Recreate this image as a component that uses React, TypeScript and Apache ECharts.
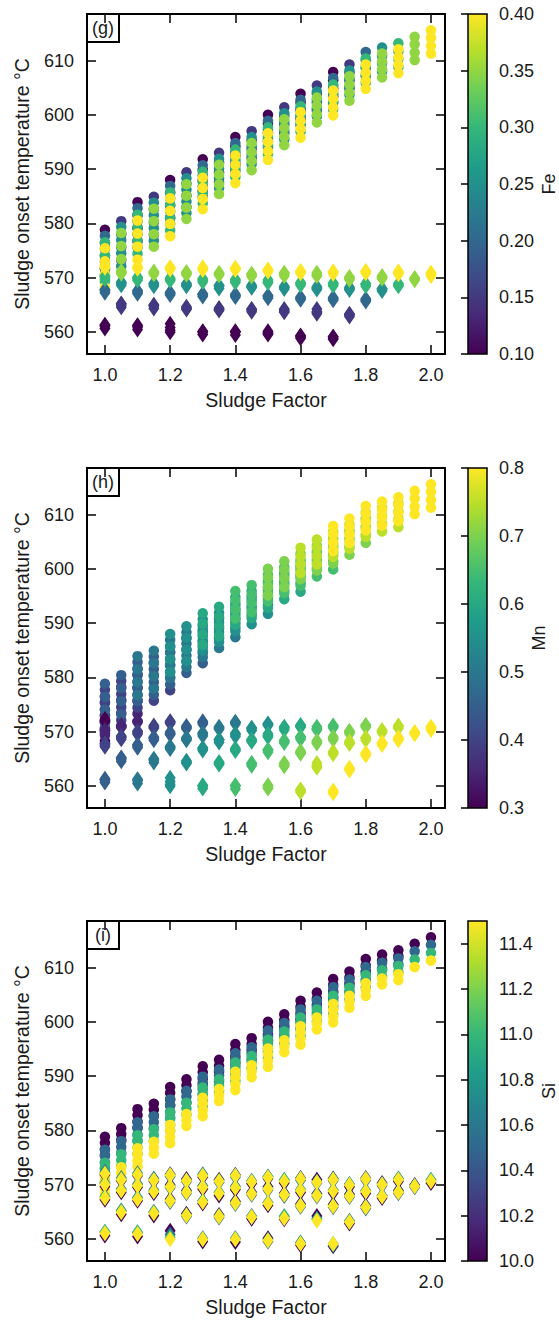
import React, { useEffect, useRef } from "react";
import * as echarts from "echarts";

// ---- data: one row per (Fe, Mn) composition; four Si levels per row ----
const sludgeFactor = [
  1.0, 1.0, 1.0, 1.0,
  1.05, 1.05, 1.05,
  1.1, 1.1, 1.1, 1.1,
  1.15, 1.15, 1.15,
  1.2, 1.2, 1.2, 1.2,
  1.25, 1.25, 1.25,
  1.3, 1.3, 1.3, 1.3,
  1.35, 1.35, 1.35,
  1.4, 1.4, 1.4, 1.4,
  1.45, 1.45, 1.45,
  1.5, 1.5, 1.5, 1.5,
  1.55, 1.55, 1.55,
  1.6, 1.6, 1.6, 1.6,
  1.65, 1.65, 1.65,
  1.7, 1.7, 1.7, 1.7,
  1.75, 1.75, 1.75,
  1.8, 1.8, 1.8,
  1.85, 1.85,
  1.9, 1.9,
  1.95,
  2.0,
];

const feContent = [
  0.1, 0.2, 0.3, 0.4,
  0.15, 0.25, 0.35,
  0.1, 0.2, 0.3, 0.4,
  0.15, 0.25, 0.35,
  0.1, 0.2, 0.3, 0.4,
  0.15, 0.25, 0.35,
  0.1, 0.2, 0.3, 0.4,
  0.15, 0.25, 0.35,
  0.1, 0.2, 0.3, 0.4,
  0.15, 0.25, 0.35,
  0.1, 0.2, 0.3, 0.4,
  0.15, 0.25, 0.35,
  0.1, 0.2, 0.3, 0.4,
  0.15, 0.25, 0.35,
  0.1, 0.2, 0.3, 0.4,
  0.15, 0.25, 0.35,
  0.2, 0.3, 0.4,
  0.25, 0.35,
  0.3, 0.4,
  0.35,
  0.4,
];

const mnContent = [
  0.45, 0.4, 0.35, 0.3,
  0.45, 0.4, 0.35,
  0.5, 0.45, 0.4, 0.35,
  0.5, 0.45, 0.4,
  0.55, 0.5, 0.45, 0.4,
  0.55, 0.5, 0.45,
  0.6, 0.55, 0.5, 0.45,
  0.6, 0.55, 0.5,
  0.65, 0.6, 0.55, 0.5,
  0.65, 0.6, 0.55,
  0.7, 0.65, 0.6, 0.55,
  0.7, 0.65, 0.6,
  0.75, 0.7, 0.65, 0.6,
  0.75, 0.7, 0.65,
  0.8, 0.75, 0.7, 0.65,
  0.8, 0.75, 0.7,
  0.8, 0.75, 0.7,
  0.8, 0.75,
  0.8, 0.75,
  0.8,
  0.8,
];

const siContent = [10.0, 10.5, 11.0, 11.5];

// onset temperature (°C) of the upper (circle) branch, per Si level
const upperOnset = [
  [578.8, 576.4, 574.0, 571.6], [577.7, 575.3, 572.9, 570.5], [576.5, 574.1, 571.7, 569.3], [575.4, 573.0, 570.6, 568.2],
  [580.4, 578.0, 575.6, 573.2], [579.3, 576.9, 574.5, 572.1], [578.2, 575.8, 573.4, 571.0],
  [583.9, 581.5, 579.1, 576.7], [582.8, 580.4, 578.0, 575.6], [581.6, 579.2, 576.8, 574.4], [580.5, 578.1, 575.7, 573.3],
  [584.9, 582.6, 580.2, 577.9], [583.8, 581.5, 579.1, 576.8], [582.7, 580.4, 578.0, 575.7],
  [588.0, 585.7, 583.3, 581.0], [586.9, 584.6, 582.2, 579.9], [585.7, 583.4, 581.0, 578.7], [584.6, 582.3, 579.9, 577.6],
  [589.4, 587.3, 585.1, 583.0], [588.3, 586.2, 584.0, 581.9], [587.2, 585.1, 582.9, 580.8],
  [591.8, 589.9, 587.9, 586.0], [590.7, 588.8, 586.8, 584.9], [589.5, 587.6, 585.6, 583.7], [588.4, 586.5, 584.5, 582.6],
  [593.0, 591.2, 589.4, 587.6], [591.9, 590.1, 588.3, 586.5], [590.8, 589.0, 587.2, 585.4],
  [595.9, 594.2, 592.5, 590.8], [594.8, 593.1, 591.4, 589.7], [593.6, 591.9, 590.2, 588.5], [592.5, 590.8, 589.1, 587.4],
  [597.0, 595.3, 593.7, 592.0], [595.9, 594.2, 592.6, 590.9], [594.8, 593.1, 591.5, 589.8],
  [600.0, 598.4, 596.7, 595.1], [598.9, 597.3, 595.6, 594.0], [597.7, 596.1, 594.4, 592.8], [596.6, 595.0, 593.3, 591.7],
  [601.4, 599.8, 598.2, 596.6], [600.3, 598.7, 597.1, 595.5], [599.2, 597.6, 596.0, 594.4],
  [603.9, 602.3, 600.8, 599.2], [602.8, 601.2, 599.7, 598.1], [601.6, 600.0, 598.5, 596.9], [600.5, 598.9, 597.4, 595.8],
  [605.4, 603.9, 602.3, 600.8], [604.3, 602.8, 601.2, 599.7], [603.2, 601.7, 600.1, 598.6],
  [607.9, 606.4, 604.8, 603.3], [606.8, 605.3, 603.7, 602.2], [605.6, 604.1, 602.5, 601.0], [604.5, 603.0, 601.4, 599.9],
  [609.3, 607.8, 606.3, 604.8], [608.2, 606.7, 605.2, 603.7], [607.1, 605.6, 604.1, 602.6],
  [611.6, 610.1, 608.6, 607.1], [610.4, 608.9, 607.4, 605.9], [609.3, 607.8, 606.3, 604.8],
  [612.4, 610.9, 609.5, 608.0], [611.3, 609.8, 608.4, 606.9],
  [613.2, 611.7, 610.3, 608.8], [612.1, 610.6, 609.2, 607.7],
  [614.4, 613.0, 611.5, 610.1],
  [615.6, 614.2, 612.7, 611.3],
];

// onset temperature (°C) of the lower (diamond) branch, per Si level
const lowerOnset = [
  [560.6, 561.2, 561.3, 561.0], [567.2, 567.7, 567.8, 567.5], [569.7, 570.3, 570.2, 570.0], [571.8, 572.3, 572.1, 572.0],
  [564.5, 565.2, 565.1, 564.9], [568.6, 569.2, 569.0, 568.9], [570.7, 571.2, 571.0, 570.9],
  [560.4, 561.1, 561.2, 560.9], [567.0, 567.6, 567.5, 567.3], [569.5, 570.1, 569.9, 569.8], [571.6, 572.1, 571.9, 571.8],
  [564.3, 565.0, 564.9, 564.7], [568.4, 569.0, 568.8, 568.7], [570.6, 571.1, 570.9, 570.8],
  [561.5, 560.8, 560.3, 559.9], [567.3, 566.8, 567.1, 567.0], [569.9, 569.4, 569.7, 569.6], [571.9, 571.5, 571.8, 571.7],
  [564.6, 564.1, 564.4, 564.3], [568.9, 568.4, 568.7, 568.6], [571.0, 570.5, 570.8, 570.7],
  [559.5, 560.1, 560.0, 559.9], [566.5, 567.0, 566.9, 566.8], [569.2, 569.8, 569.6, 569.5], [571.4, 571.9, 571.7, 571.6],
  [564.4, 563.9, 564.2, 564.1], [568.0, 568.6, 568.5, 568.4], [570.9, 570.4, 570.7, 570.6],
  [559.4, 560.1, 560.0, 559.9], [566.9, 566.4, 566.7, 566.6], [569.1, 569.7, 569.5, 569.4], [571.8, 571.4, 571.7, 571.6],
  [563.7, 564.2, 564.1, 564.0], [568.6, 568.1, 568.4, 568.3], [570.2, 570.7, 570.6, 570.5],
  [560.1, 559.5, 559.8, 559.7], [566.2, 566.7, 566.6, 566.5], [569.6, 569.0, 569.3, 569.2], [571.1, 571.5, 571.4, 571.3],
  [563.6, 564.0, 564.2, 563.8], [568.4, 567.9, 568.2, 568.1], [570.3, 570.8, 570.9, 570.6],
  [558.8, 559.3, 559.2, 559.1], [566.4, 565.9, 566.2, 566.1], [568.6, 569.1, 569.0, 568.9], [571.2, 570.8, 571.1, 571.0],
  [564.2, 563.7, 563.6, 563.3], [568.3, 567.8, 568.1, 568.0], [570.9, 570.3, 570.5, 570.4],
  [558.6, 558.8, 559.1, 559.1], [566.3, 565.8, 566.1, 566.0], [568.5, 569.0, 568.9, 568.8], [571.1, 570.7, 571.0, 570.9],
  [562.8, 563.3, 563.2, 563.1], [568.2, 567.7, 568.0, 567.9], [569.6, 570.1, 570.0, 569.9],
  [566.1, 565.6, 565.9, 565.8], [568.4, 568.9, 568.8, 568.7], [571.2, 570.8, 571.1, 571.0],
  [567.5, 568.0, 567.9, 567.8], [570.3, 569.8, 570.1, 570.0],
  [568.9, 568.4, 568.7, 568.6], [570.6, 571.1, 571.0, 570.9],
  [569.9, 569.5, 569.8, 569.7],
  [570.3, 570.8, 570.9, 570.6],
];

// axis ticks
const xTicks = [1.0, 1.2, 1.4, 1.6, 1.8, 2.0];
const yTicks = [560, 570, 580, 590, 600, 610];
const feTicks = [0.1, 0.15, 0.2, 0.25, 0.3, 0.35, 0.4];
const mnTicks = [0.3, 0.4, 0.5, 0.6, 0.7, 0.8];
const siTicks = [10.0, 10.2, 10.4, 10.6, 10.8, 11.0, 11.2, 11.4];

// ---- styling / layout ----
const VIRIDIS = ["#440154", "#482878", "#3e4a89", "#31688e", "#26828e", "#1f9e89", "#35b779", "#6ece58", "#b5de2b", "#fde725"];
const FONT = '"Liberation Sans", Arial, Helvetica, sans-serif';
const TXT = "#1a1a1a";
const PANEL_TOPS = [14, 468, 921];
const PLOT_LEFT = 87;
const PLOT_W = 358;
const PLOT_H = 340;
const CB_LEFT = 468;
const CB_W = 19;
const X_MIN = 0.945;
const X_MAX = 2.043;
const Y_MIN = 555.9;
const Y_MAX = 618.6;

const panels = [
  { tag: "(g)", name: "Fe", min: 0.1, max: 0.4, ticks: feTicks, digits: 2, gap: 53, key: "fe" },
  { tag: "(h)", name: "Mn", min: 0.3, max: 0.8, ticks: mnTicks, digits: 1, gap: 43, key: "mn" },
  { tag: "(i)", name: "Si", min: 10.0, max: 11.5, ticks: siTicks, digits: 1, gap: 53, key: "si" },
];

function colorValue(key: string, k: number, s: number) {
  if (key === "fe") return feContent[k];
  if (key === "mn") return mnContent[k];
  return siContent[s];
}

function buildPoints(key: string, temps: number[][]) {
  const pts: number[][] = [];
  for (let k = 0; k < sludgeFactor.length; k++) {
    for (let s = 0; s < siContent.length; s++) {
      pts.push([sludgeFactor[k], temps[k][s], colorValue(key, k, s)]);
    }
  }
  return pts
    .map((p, i) => ({ p, i }))
    .sort((a, b) => a.p[2] - b.p[2] || a.i - b.i)
    .map((o) => o.p);
}

function buildOption() {
  const grid: any[] = [];
  const xAxis: any[] = [];
  const yAxis: any[] = [];
  const series: any[] = [];
  const visualMap: any[] = [];
  const graphic: any[] = [];

  const axLine = { show: true, onZero: false, lineStyle: { color: "#000", width: 2 } };
  const tickStyle = { color: "#000", width: 1.5 };
  const labelStyle = { fontSize: 18, color: TXT, fontFamily: FONT };

  panels.forEach((p, i) => {
    const top = PANEL_TOPS[i];
    grid.push({ left: PLOT_LEFT, top, width: PLOT_W, height: PLOT_H, containLabel: false, outerBoundsMode: "none" });
    grid.push({ left: CB_LEFT, top, width: CB_W, height: PLOT_H, containLabel: false, outerBoundsMode: "none" });
    const g = i * 2;
    const cg = i * 2 + 1;

    xAxis.push({
      gridIndex: g, type: "value", position: "bottom", min: X_MIN, max: X_MAX,
      name: "Sludge Factor", nameLocation: "middle", nameGap: 36,
      nameTextStyle: { fontSize: 19.5, color: TXT, fontFamily: FONT },
      axisLine: axLine,
      axisTick: { show: true, inside: true, length: 9, customValues: xTicks, lineStyle: tickStyle },
      axisLabel: { ...labelStyle, customValues: xTicks, margin: 12, formatter: (v: number) => v.toFixed(1) },
      splitLine: { show: false },
    });
    xAxis.push({
      gridIndex: g, type: "value", position: "top", min: X_MIN, max: X_MAX,
      axisLine: axLine,
      axisTick: { show: true, inside: true, length: 9, customValues: xTicks, lineStyle: tickStyle },
      axisLabel: { show: false },
      splitLine: { show: false },
    });
    xAxis.push({ gridIndex: cg, type: "value", min: 0, max: 1, show: false });

    yAxis.push({
      gridIndex: g, type: "value", position: "left", min: Y_MIN, max: Y_MAX,
      name: "Sludge onset temperature °C", nameLocation: "middle", nameGap: 55, nameRotate: 90,
      nameTextStyle: { fontSize: 19.5, color: TXT, fontFamily: FONT },
      axisLine: axLine,
      axisTick: { show: true, inside: true, length: 9, customValues: yTicks, lineStyle: tickStyle },
      axisLabel: { ...labelStyle, customValues: yTicks, margin: 13, formatter: (v: number) => String(Math.round(v)) },
      splitLine: { show: false },
    });
    yAxis.push({
      gridIndex: g, type: "value", position: "right", min: Y_MIN, max: Y_MAX,
      axisLine: axLine,
      axisTick: { show: true, inside: true, length: 9, customValues: yTicks, lineStyle: tickStyle },
      axisLabel: { show: false },
      splitLine: { show: false },
    });
    yAxis.push({
      gridIndex: cg, type: "value", position: "right", min: p.min, max: p.max, z: 10,
      name: p.name, nameLocation: "middle", nameGap: p.gap, nameRotate: 90,
      nameTextStyle: { fontSize: 18, color: TXT, fontFamily: FONT },
      axisLine: { show: false },
      axisTick: { show: true, inside: true, length: 7, customValues: p.ticks, lineStyle: { color: "#000", width: 1.5 } },
      axisLabel: { ...labelStyle, customValues: p.ticks, margin: 12, formatter: (v: number) => v.toFixed(p.digits) },
      splitLine: { show: false },
    });

    series.push({
      type: "scatter", xAxisIndex: i * 3, yAxisIndex: i * 3, symbol: "circle", symbolSize: 10.5,
      data: buildPoints(p.key, upperOnset), silent: true, itemStyle: { opacity: 1 },
    });
    series.push({
      type: "scatter", xAxisIndex: i * 3, yAxisIndex: i * 3, symbol: "diamond", symbolSize: [11, 16],
      data: buildPoints(p.key, lowerOnset), silent: true, itemStyle: { opacity: 1 },
    });
    visualMap.push({
      type: "continuous", show: false, seriesIndex: [i * 2, i * 2 + 1], dimension: 2,
      min: p.min, max: p.max, inRange: { color: VIRIDIS },
    });

    // colour bar
    graphic.push({
      type: "rect", z: 1,
      shape: { x: CB_LEFT, y: top, width: CB_W, height: PLOT_H },
      style: {
        fill: {
          type: "linear", x: 0, y: 0, x2: 0, y2: 1,
          colorStops: VIRIDIS.slice().reverse().map((c, j, arr) => ({ offset: j / (arr.length - 1), color: c })),
        },
        stroke: "#000", lineWidth: 1.5,
      },
    });
    // panel tag box
    graphic.push({
      type: "group", z: 100,
      children: [
        { type: "rect", shape: { x: PLOT_LEFT, y: top, width: 32, height: 28 }, style: { fill: "#fff", stroke: "#000", lineWidth: 2 } },
        {
          type: "text", x: PLOT_LEFT + 16, y: top + 14,
          style: { text: p.tag, fontSize: 18, fontFamily: FONT, fill: TXT, align: "center", verticalAlign: "middle", textAlign: "center", textVerticalAlign: "middle" },
        },
      ],
    });
  });

  return { animation: false, backgroundColor: "#fff", grid, xAxis, yAxis, series, visualMap, graphic };
}

export default function App() {
  const ref = useRef<HTMLDivElement>(null);
  useEffect(() => {
    const chart = echarts.init(ref.current as HTMLDivElement, null, { renderer: "svg" });
    chart.setOption(buildOption() as any);
    return () => chart.dispose();
  }, []);
  return <div ref={ref} style={{ position: "absolute", left: 0, top: 0, width: 559, height: 1320, background: "#fff" }} />;
}
